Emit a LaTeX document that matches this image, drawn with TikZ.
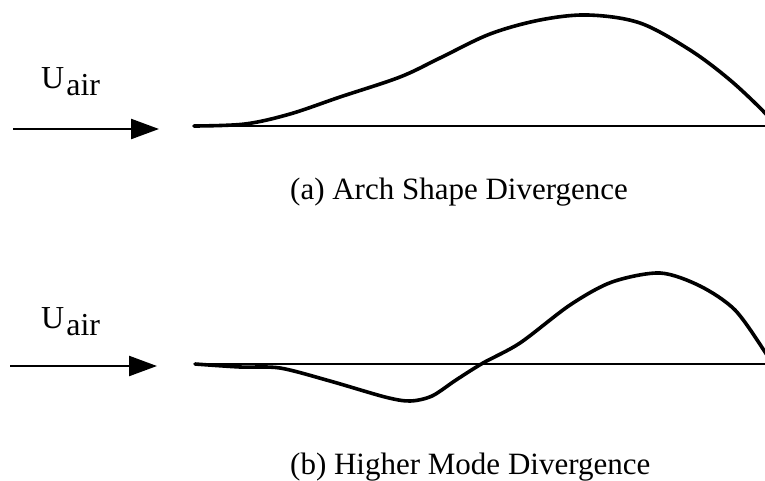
\documentclass[tikz,border=0pt]{standalone}
\usepackage{fontspec}
\setmainfont{Liberation Serif}
\usetikzlibrary{arrows.meta}
\tikzset{
  lbl/.style={inner sep=0pt, anchor=base west, font=\fontsize{32}{38}\selectfont},
  captext/.style={inner sep=0pt, anchor=base west, font=\fontsize{31}{37}\selectfont},
  flow/.style={line width=2.4pt, -{Triangle[length=28pt,width=20pt]}},
  axis/.style={line width=2.8pt},
  mode/.style={line width=3.6pt, line join=round, line cap=round}
}
\begin{document}
\begin{tikzpicture}[x=1pt,y=-1pt]
\useasboundingbox (0,0) rectangle (765,480);
\begin{scope}
\clip (0,0) rectangle (765,480);
% ---- (a) ----
\node[lbl] (ua) at (41,88) {U\kern2pt\raisebox{-7pt}{air}};
\coordinate (aS) at (13,129);
\coordinate (aE) at (159,129);
\draw[flow] (aS) -- (aE);
\coordinate (bA1) at (194,126);
\coordinate (bA2) at (780,126);
\draw[axis] (bA1) -- (bA2);
\draw[mode] plot[smooth, tension=0.55] coordinates {
 (194,126) (245,124) (290,114) (340,97) (400,77) (440,58) (490,34)
 (540,20) (588,15) (640,23) (690,50) (730,80) (765,113) (775,127)};
\node[captext] (capa) at (290,199) {(a) Arch Shape Divergence};
% ---- (b) ----
\node[lbl] (ub) at (41,328) {U\kern2pt\raisebox{-7pt}{air}};
\coordinate (cS) at (10,366);
\coordinate (cE) at (157,366);
\draw[flow] (cS) -- (cE);
\coordinate (bB1) at (195,364);
\coordinate (bB2) at (780,364);
\draw[axis] (bB1) -- (bB2);
\draw[mode] plot[smooth, tension=0.5] coordinates {
 (195,364) (240,367) (280,368) (330,381) (385,397) (410,401)
 (432,396) (456,380) (483,363) (520,343) (570,305) (612,282)
 (660,273) (700,286) (735,310) (765,352) (772,366)};
\node[captext] (capb) at (290,474) {(b) Higher Mode Divergence};
\end{scope}
\end{tikzpicture}
\end{document}
